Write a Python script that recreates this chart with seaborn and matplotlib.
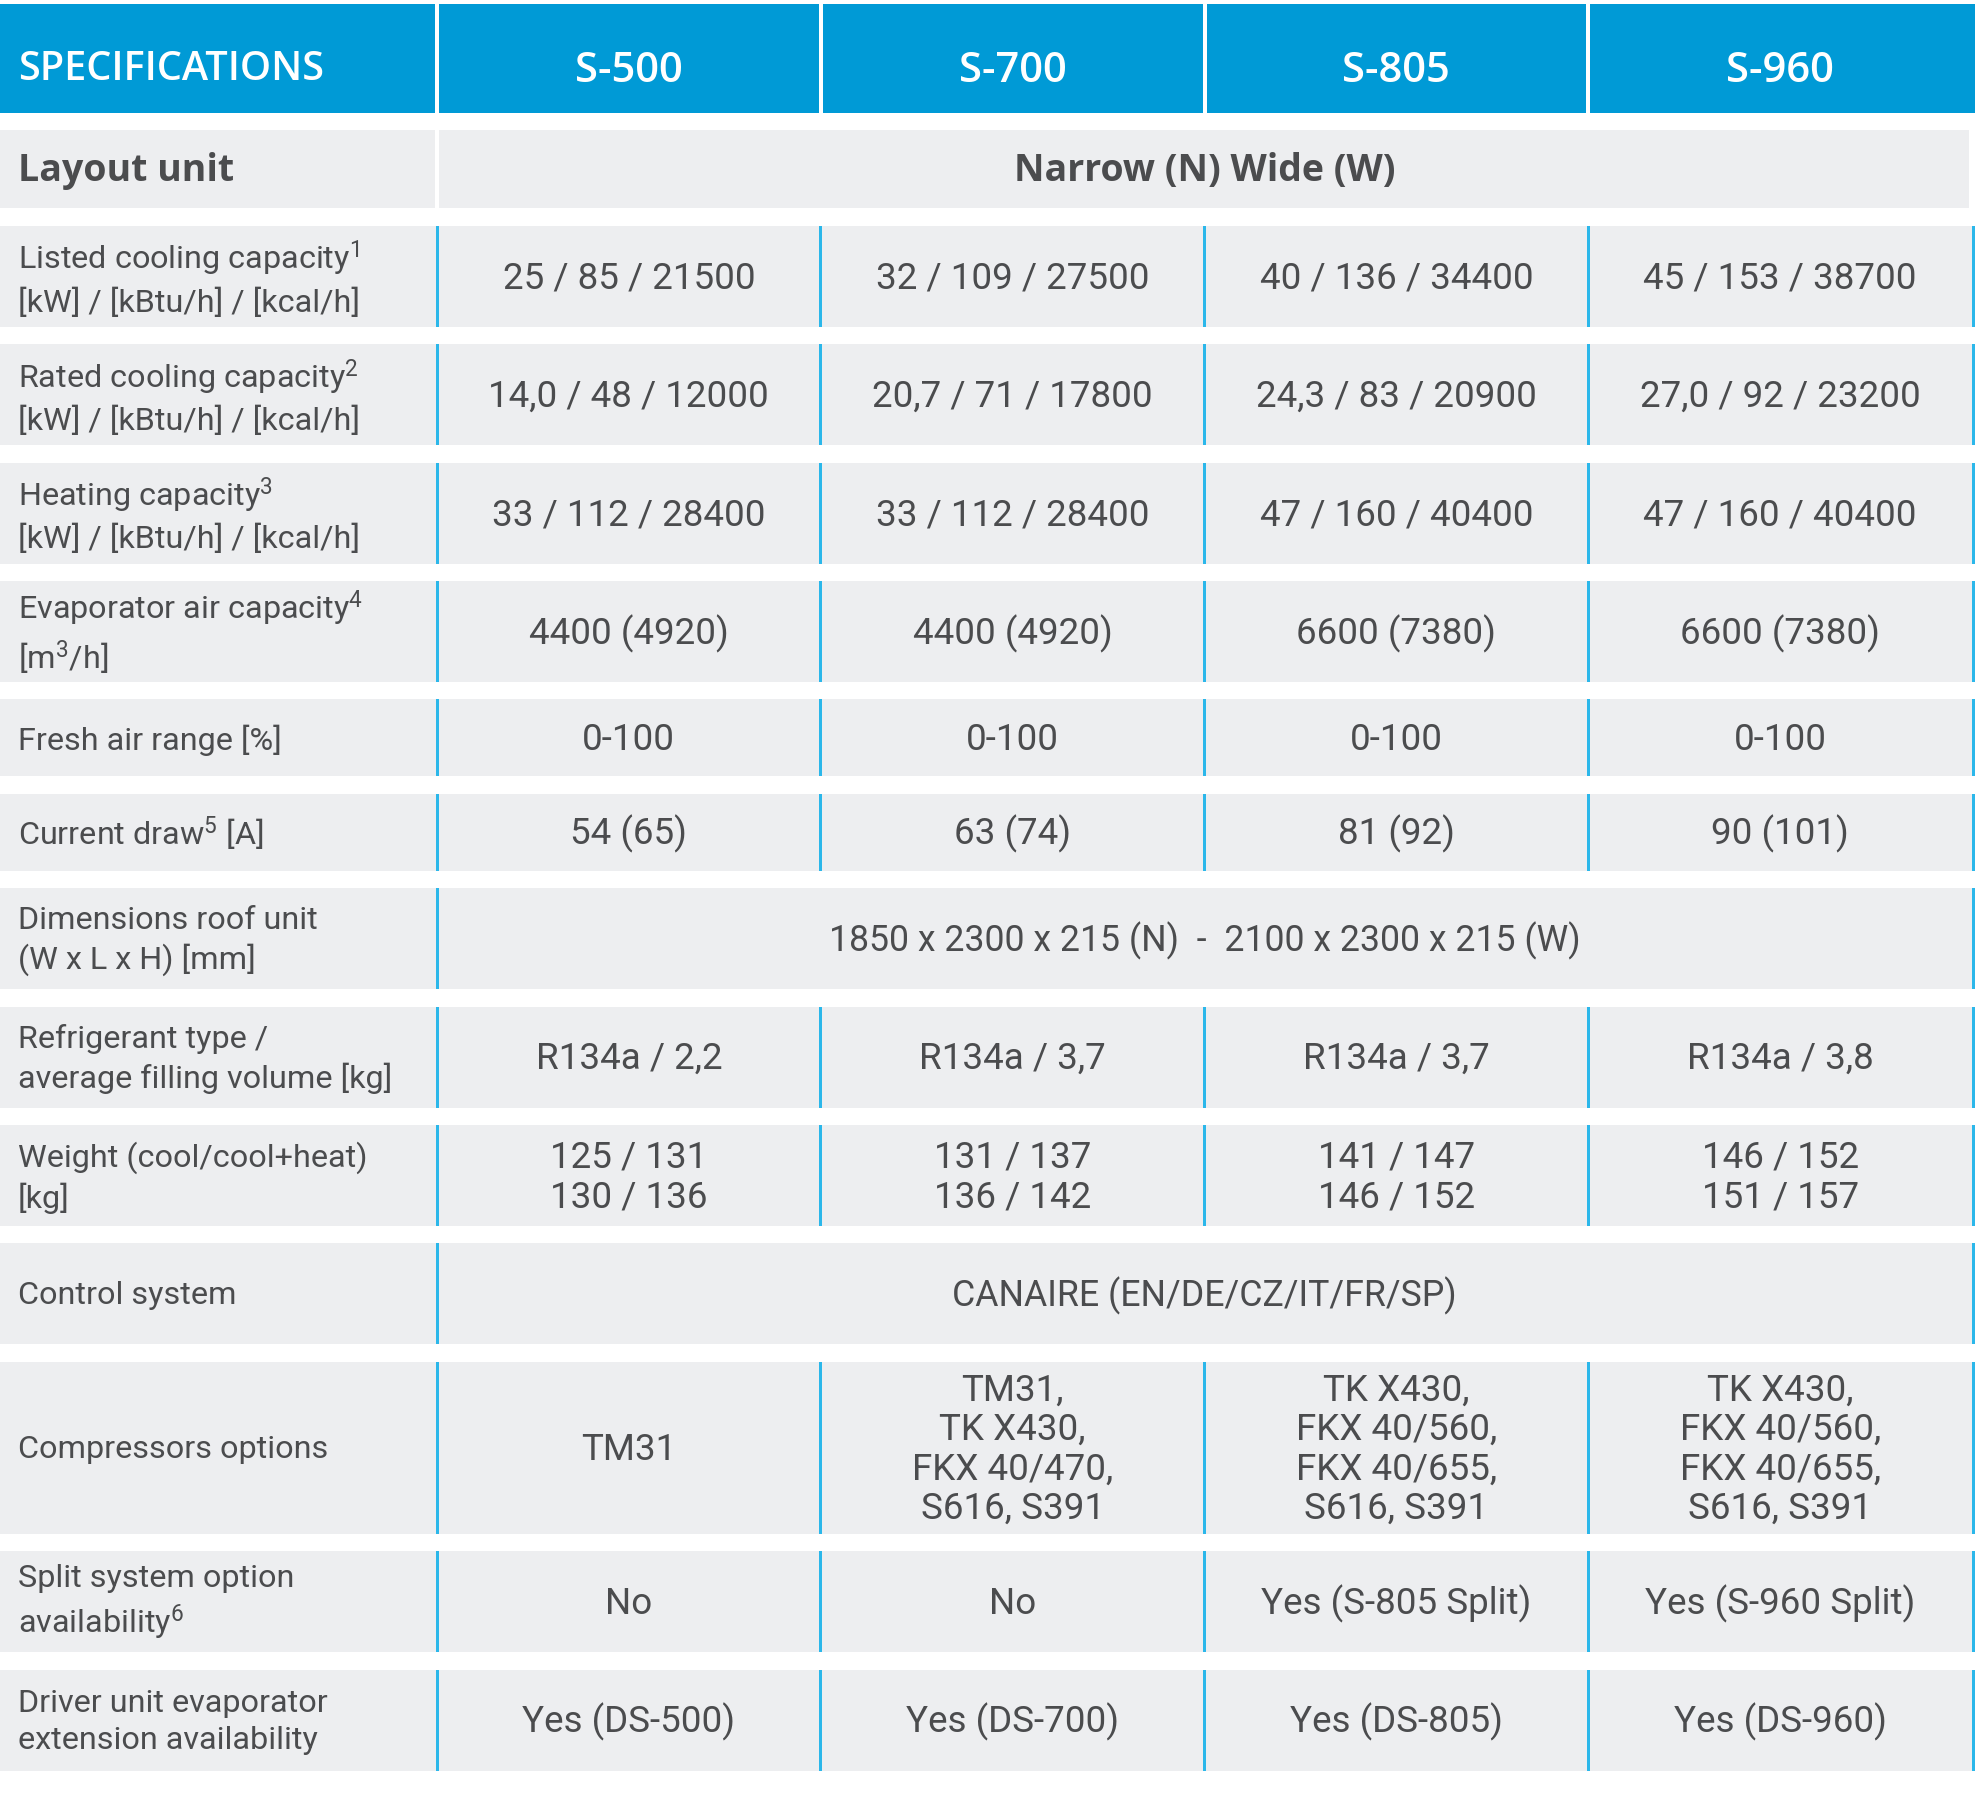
import matplotlib
matplotlib.use("Agg")
import matplotlib.pyplot as plt
from matplotlib.patches import Rectangle
import seaborn as sns

# ---------------- data ----------------
header_label = "SPECIFICATIONS"
models = ["S-500", "S-700", "S-805", "S-960"]

row_labels = [
    "Layout unit",
    "Listed cooling capacity$\\mathregular{^1}$\n[kW] / [kBtu/h] / [kcal/h]",
    "Rated cooling capacity$\\mathregular{^2}$\n[kW] / [kBtu/h] / [kcal/h]",
    "Heating capacity$\\mathregular{^3}$\n[kW] / [kBtu/h] / [kcal/h]",
    "Evaporator air capacity$\\mathregular{^4}$\n[m$\\mathregular{^3}$/h]",
    "Fresh air range [%]",
    "Current draw$\\mathregular{^5}$ [A]",
    "Dimensions roof unit\n(W x L x H) [mm]",
    "Refrigerant type /\naverage filling volume [kg]",
    "Weight (cool/cool+heat)\n[kg]",
    "Control system",
    "Compressors options",
    "Split system option\navailability$\\mathregular{^6}$",
    "Driver unit evaporator\nextension availability",
]

# merged rows (span all model columns)
merged_rows = {
    0: "Narrow (N) Wide (W)",
    7: "1850 x 2300 x 215 (N)  -  2100 x 2300 x 215 (W)",
    10: "CANAIRE (EN/DE/CZ/IT/FR/SP)",
}

s500 = [None, "25 / 85 / 21500", "14,0 / 48 / 12000", "33 / 112 / 28400", "4400 (4920)",
        "0-100", "54 (65)", None, "R134a / 2,2", "125 / 131\n130 / 136", None,
        "TM31", "No", "Yes (DS-500)"]
s700 = [None, "32 / 109 / 27500", "20,7 / 71 / 17800", "33 / 112 / 28400", "4400 (4920)",
        "0-100", "63 (74)", None, "R134a / 3,7", "131 / 137\n136 / 142", None,
        "TM31,\nTK X430,\nFKX 40/470,\nS616, S391", "No", "Yes (DS-700)"]
s805 = [None, "40 / 136 / 34400", "24,3 / 83 / 20900", "47 / 160 / 40400", "6600 (7380)",
        "0-100", "81 (92)", None, "R134a / 3,7", "141 / 147\n146 / 152", None,
        "TK X430,\nFKX 40/560,\nFKX 40/655,\nS616, S391", "Yes (S-805 Split)", "Yes (DS-805)"]
s960 = [None, "45 / 153 / 38700", "27,0 / 92 / 23200", "47 / 160 / 40400", "6600 (7380)",
        "0-100", "90 (101)", None, "R134a / 3,8", "146 / 152\n151 / 157", None,
        "TK X430,\nFKX 40/560,\nFKX 40/655,\nS616, S391", "Yes (S-960 Split)", "Yes (DS-960)"]
columns = [s500, s700, s805, s960]

# ---------------- style / layout ----------------
sns.set_theme(style="white")
BODY_FONT = ["Roboto", "DejaVu Sans"]
HEAD_FONT = ["Open Sans", "DejaVu Sans"]
plt.rcParams["font.family"] = BODY_FONT
plt.rcParams["mathtext.fontset"] = "custom"
plt.rcParams["mathtext.rm"] = "Roboto"

BLUE = "#009AD6"
LINE = "#2BB7EA"
BG = "#EDEEF0"
TXT = "#4B4C4E"
W, H = 1975, 1797

fig = plt.figure(figsize=(W / 100, H / 100), dpi=100)
ax = fig.add_axes([0, 0, 1, 1])
ax.set_xlim(0, W)
ax.set_ylim(H, 0)
ax.axis("off")

col0_w = 437
right = 1972
ncol = len(models)
col_w = (right - col0_w) / ncol
col_x = [col0_w + i * col_w for i in range(ncol + 1)]

header_top, header_bot = 4, 113
gap = 17.4
row_h = []
for i, lab in enumerate(row_labels):
    nl = max([lab.count("\n") + 1] + [c[i].count("\n") + 1 for c in columns if c[i]])
    if i == 0:
        row_h.append(78)
    elif i in (5, 6):
        row_h.append(77)
    elif nl <= 2:
        row_h.append(101)
    else:
        row_h.append(172)

FS = 26.5
FS_LABEL = 23.3
FS_HEAD = 28.5
FS_BOLD = 27

# header
ax.add_patch(Rectangle((0, header_top), right + 3, header_bot - header_top, color=BLUE, lw=0))
hy = (header_top + header_bot) / 2 + 12
ax.text(18, hy, header_label, color="white", fontsize=FS_HEAD, family=HEAD_FONT,
        fontweight="semibold", ha="left", va="center")
for j, m in enumerate(models):
    ax.text((col_x[j] + col_x[j + 1]) / 2, hy, m, color="white", family=HEAD_FONT,
            fontsize=FS_HEAD + 1.5, fontweight="semibold", ha="center", va="center")
for x in col_x[:-1]:
    ax.add_patch(Rectangle((x - 2, header_top), 4, header_bot - header_top, color="white", lw=0))

# body rows
y = header_bot + gap
for i, lab in enumerate(row_labels):
    h = row_h[i]
    yc = y + h / 2
    bg_right = right - 3 if i == 0 else right
    ax.add_patch(Rectangle((0, y), bg_right, h, color=BG, lw=0))
    if i == 0:
        ax.text(18, yc + 2, lab, color=TXT, fontsize=FS_BOLD, family=HEAD_FONT,
                fontweight="bold", ha="left", va="center")
    else:
        ax.text(18, yc + 2, lab, color=TXT, fontsize=FS_LABEL, ha="left", va="center",
                linespacing=1.32)
    if i in merged_rows:
        if i == 0:
            ax.text((col_x[0] + col_x[-1]) / 2, yc + 2, merged_rows[i], color=TXT,
                    fontsize=FS_BOLD, family=HEAD_FONT, fontweight="bold",
                    ha="center", va="center")
            ax.add_patch(Rectangle((col_x[0] - 2, y), 4, h, color="white", lw=0))
        else:
            ax.text((col_x[0] + col_x[-1]) / 2, yc + 2, merged_rows[i], color=TXT,
                    fontsize=FS - 0.8, ha="center", va="center")
            ax.add_patch(Rectangle((col_x[0] - 1.5, y), 3, h, color=LINE, lw=0))
            ax.add_patch(Rectangle((col_x[-1], y), 3, h, color=LINE, lw=0))
    else:
        for j, c in enumerate(columns):
            ax.text((col_x[j] + col_x[j + 1]) / 2, yc + 2, c[i], color=TXT, fontsize=FS,
                    ha="center", va="center", multialignment="center", linespacing=1.12)
        for x in col_x[:-1]:
            ax.add_patch(Rectangle((x - 1.5, y), 3, h, color=LINE, lw=0))
        ax.add_patch(Rectangle((col_x[-1], y), 3, h, color=LINE, lw=0))
    y += h + gap

fig.savefig("out.png", dpi=100, facecolor="white")
